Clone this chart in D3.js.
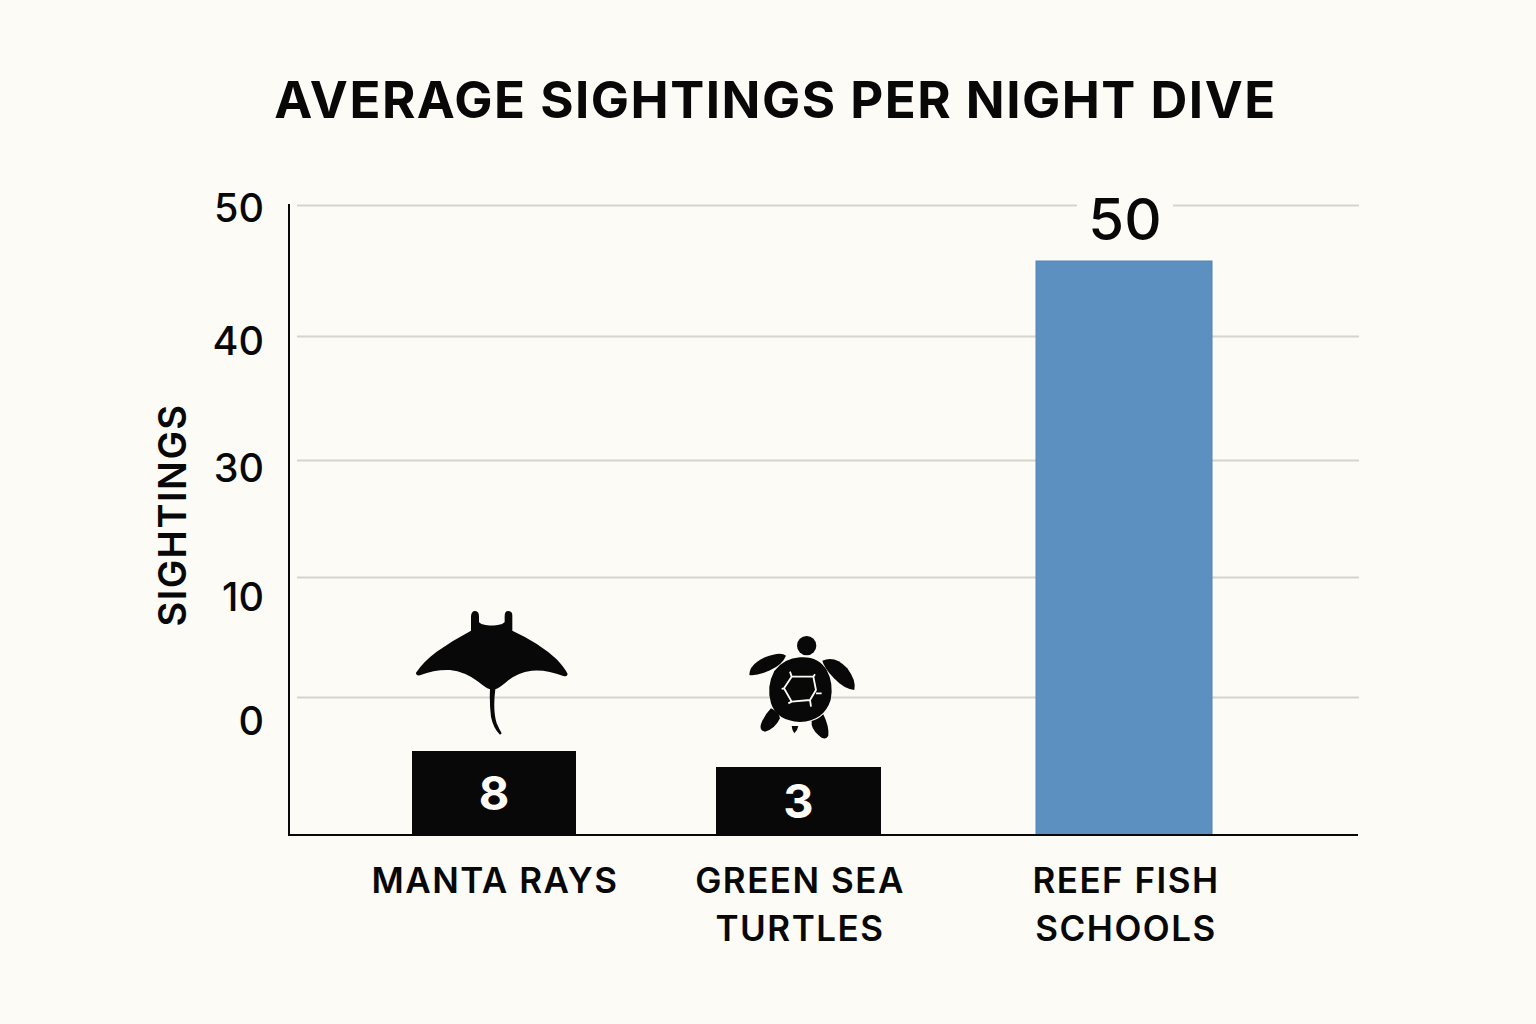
<!DOCTYPE html>
<html>
<head>
<meta charset="utf-8">
<script src="https://d3js.org/d3.v7.min.js"></script>
<style>
html,body{margin:0;padding:0;background:#fdfbf6;}
svg{display:block;}
text{font-family:Inter,"Liberation Sans",sans-serif;fill:#080808;}
</style>
</head>
<body>
<svg id="chart" width="1536" height="1024"></svg>
<script>
// Data
const categories = ["MANTA RAYS", "GREEN SEA TURTLES", "REEF FISH SCHOOLS"];
const categoryLines = [["MANTA RAYS"], ["GREEN SEA", "TURTLES"], ["REEF FISH", "SCHOOLS"]];
const sightings = [8, 3, 50];
const tickValues = [0, 10, 30, 40, 50];
const titleText = "AVERAGE SIGHTINGS PER NIGHT DIVE";
const yAxisTitle = "SIGHTINGS";

// Layout: the reference's axis is not evenly spaced, so the scales are piecewise
const bg = "#fdfbf6", ink = "#080808", gridColor = "#d6d4cd", blue = "#5b90c0";
const barLeft = d3.scaleOrdinal(categories, [412, 716, 1036]);
const barRight = d3.scaleOrdinal(categories, [576, 881, 1212]);
const labelX = d3.scaleOrdinal(categories, [495, 800, 1126]);
const valueY = d3.scaleLinear().domain([0, 3, 8, 50]).range([835, 767, 751, 261]);
const gridY = d3.scaleLinear().domain([0, 10, 30, 40, 50]).range([697, 577, 460, 336, 205]);
const tickLabelY = d3.scaleLinear().domain([0, 10, 30, 40, 50]).range([722, 598, 469, 342, 209]);

const svg = d3.select("#chart");
svg.append("rect").attr("width", 1536).attr("height", 1024).attr("fill", bg);

// Title
svg.append("text").attr("x", 775.5).attr("y", 118).attr("text-anchor", "middle")
  .attr("font-size", 51).attr("font-weight", 700).attr("letter-spacing", 1.5).text(titleText);

// Gridlines
const grid = svg.append("g").attr("transform", "translate(297,0)")
  .call(d3.axisLeft(gridY).tickValues(tickValues).tickSize(-1062).tickFormat(""));
grid.select(".domain").remove();
grid.selectAll("line").attr("stroke", gridColor).attr("stroke-width", 1.8);

// Y tick labels
const yLabels = svg.append("g").attr("transform", "translate(264,0)")
  .call(d3.axisLeft(tickLabelY).tickValues(tickValues).tickSize(0).tickPadding(0));
yLabels.select(".domain").remove();
yLabels.selectAll("text").attr("font-size", 39.5).attr("font-weight", 500)
  .style("font-family", "Inter").attr("fill", ink);

// Y title
svg.append("text").attr("transform", "translate(185.5,515) rotate(-90)").attr("text-anchor", "middle")
  .attr("font-size", 38).attr("font-weight", 600).attr("letter-spacing", 1.5).text(yAxisTitle);

// Bars
const rows = categories.map((c, i) => ({c, v: sightings[i], lines: categoryLines[i]}));
svg.append("g").selectAll("rect").data(rows).join("rect")
  .attr("x", d => barLeft(d.c)).attr("width", d => barRight(d.c) - barLeft(d.c))
  .attr("y", d => valueY(d.v)).attr("height", d => valueY(0) - valueY(d.v))
  .attr("fill", d => d.v > 10 ? blue : ink)
  .attr("stroke", d => d.v > 10 ? "#5285b6" : "none");

// Value labels
const big = rows[2];
svg.append("rect").attr("x", 1077).attr("y", 200).attr("width", 96).attr("height", 12).attr("fill", bg);
svg.append("text").attr("x", 1125).attr("y", 240).attr("text-anchor", "middle")
  .attr("font-size", 58).attr("font-weight", 500).text(big.v);
svg.append("g").selectAll("text").data(rows.slice(0, 2)).join("text")
  .attr("x", d => (barLeft(d.c) + barRight(d.c)) / 2)
  .attr("y", (d, i) => [810, 818][i]).attr("text-anchor", "middle")
  .attr("font-size", 47).attr("font-weight", 700).style("fill", "#fdfbf6").text(d => d.v);

// Axes
svg.append("line").attr("x1", 289).attr("x2", 289).attr("y1", 204).attr("y2", 836).attr("stroke", ink).attr("stroke-width", 2);
svg.append("line").attr("x1", 288).attr("x2", 1358).attr("y1", 835).attr("y2", 835).attr("stroke", ink).attr("stroke-width", 2);

// Category labels
const cat = svg.append("g").selectAll("text").data(rows).join("text")
  .attr("text-anchor", "middle").attr("font-size", 35).attr("font-weight", 600).attr("letter-spacing", 1.5);
cat.selectAll("tspan").data(d => d.lines.map(t => ({t, c: d.c}))).join("tspan")
  .attr("x", d => labelX(d.c)).attr("y", (d, i) => 893 + i * 47.5).text(d => d.t);

// Manta ray glyph (outline in a local 3x drawing frame)
svg.append("path").attr("transform", "translate(400,600) scale(0.3333)").attr("fill", ink)
  .attr("d", "M213,92 L213,48 Q215,32 226,33 Q237,34 237,48 L237,66 C245,80 305,80 314,66 L314,48 Q314,32 326,33 Q338,34 337,50 L337,92 Q420,130 470,178 Q495,205 503,222 Q502,232 490,228 Q440,208 395,212 Q350,218 320,245 Q300,262 286,268 Q278,330 290,370 Q298,388 305,400 L300,404 Q280,385 273,350 Q268,310 270,268 Q255,262 235,245 Q195,215 150,210 Q105,208 60,226 Q48,228 48,218 Q70,185 110,155 Q160,120 213,92 Z");

// Turtle glyph (outline in a local 3x drawing frame)
const turtle = svg.append("g").attr("transform", "translate(710,625) scale(0.3333)");
turtle.append("circle").attr("cx", 290).attr("cy", 62).attr("r", 29).attr("fill", ink);
turtle.append("path").attr("fill", ink)
  .attr("d", "M270,97 Q325,93 350,135 Q372,175 362,225 Q342,288 270,291 Q200,288 183,235 Q168,185 193,138 Q222,100 270,97 Z");
turtle.append("path").attr("fill", ink)
  .attr("d", "M118,150 Q118,118 165,97 Q212,78 228,92 Q218,118 180,136 Q140,154 118,150 Z");
turtle.append("path").attr("fill", ink)
  .attr("d", "M337,107 Q375,90 412,130 Q440,168 433,195 Q402,192 372,160 Q342,128 337,107 Z");
turtle.append("path").attr("fill", ink)
  .attr("d", "M183,250 Q208,262 210,280 Q195,312 165,320 Q145,316 155,292 Q165,268 183,250 Z");
turtle.append("path").attr("fill", ink)
  .attr("d", "M340,268 Q358,305 355,332 Q345,350 325,330 Q302,310 305,288 Q322,285 340,268 Z");
turtle.append("path").attr("fill", ink).attr("d", "M245,303 L265,303 Q262,318 253,325 Q246,315 245,303 Z");
turtle.append("path").attr("fill", "none").attr("stroke", bg).attr("stroke-width", 5.5).attr("stroke-linejoin", "round")
  .attr("d", "M245,155 L310,155 L318,195 L300,225 L245,230 L222,190 Z M245,155 L240,140 M310,155 L315,148 M318,205 L335,205 M300,225 L303,245 M245,230 L235,235 M222,190 L215,192");
</script>
</body>
</html>
